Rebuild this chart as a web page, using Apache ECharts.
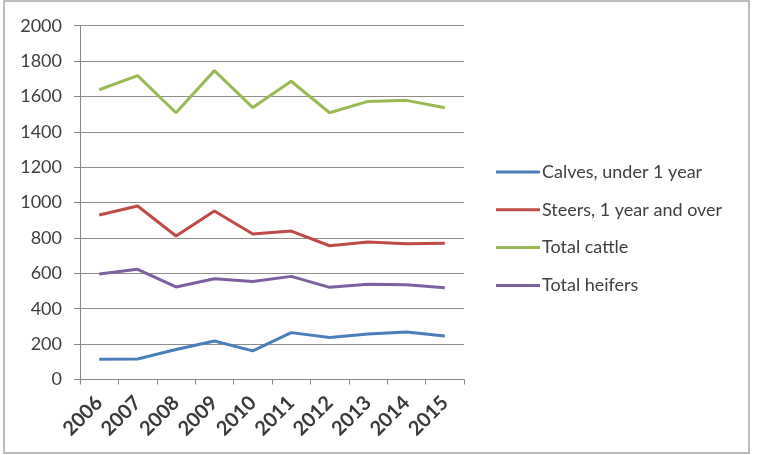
<!DOCTYPE html>
<html>
<head>
<meta charset="utf-8">
<script src="https://cdn.jsdelivr.net/npm/echarts@6/dist/echarts.min.js"></script>
<style>
  html, body { margin: 0; padding: 0; background: #fff; }
  #chart { width: 757px; height: 455px; }
</style>
</head>
<body>
<div id="chart"></div>
<script>
// Cattle inventory by class, 2006–2015
const years = ['2006', '2007', '2008', '2009', '2010', '2011', '2012', '2013', '2014', '2015'];
const calves = [114, 116, 170, 218, 162, 265, 238, 257, 268, 246];
const steers = [930, 981, 811, 953, 822, 839, 756, 777, 768, 770];
const totalCattle = [1638, 1718, 1508, 1746, 1537, 1686, 1508, 1572, 1578, 1536];
const heifers = [596, 623, 523, 570, 554, 583, 521, 538, 536, 519];
const yTicks = [0, 200, 400, 600, 800, 1000, 1200, 1400, 1600, 1800, 2000];

const FONT = 'Lato';
const TEXT = '#404040';

const seriesDefs = [
  { name: 'Calves, under 1 year', data: calves, color: '#4a7ebb' },
  { name: 'Steers, 1 year and over', data: steers, color: '#be4b48' },
  { name: 'Total cattle', data: totalCattle, color: '#98b954' },
  { name: 'Total heifers', data: heifers, color: '#7d60a0' }
];

const chart = echarts.init(document.getElementById('chart'), null, { renderer: 'canvas' });
chart.setOption({
  animation: false,
  backgroundColor: '#fff',
  textStyle: { fontFamily: FONT },
  grid: { left: 80, right: 293, top: 25.7, bottom: 75.5 },
  graphic: [{
    type: 'rect',
    shape: { x: 4, y: 1, width: 745, height: 452 },
    style: { fill: 'none', stroke: '#a6a6a6', lineWidth: 1.5 },
    silent: true
  }],
  legend: {
    orient: 'vertical',
    left: 496,
    top: 162,
    padding: 0,
    icon: 'rect',
    itemWidth: 44,
    itemHeight: 3,
    itemGap: 17.8,
    textStyle: { fontFamily: FONT, fontSize: 18, color: TEXT, lineHeight: 20, padding: [0, 0, 0, -3] },
    data: seriesDefs.map(s => s.name)
  },
  xAxis: {
    type: 'category',
    data: years,
    boundaryGap: true,
    axisLine: { lineStyle: { color: '#868686', width: 1 } },
    axisTick: { show: true, interval: 0, length: 5, lineStyle: { color: '#868686' } },
    axisLabel: {
      interval: 0, rotate: 45, margin: 20,
      fontFamily: FONT, fontSize: 20, fontWeight: 'bold', color: '#3a3a3a'
    }
  },
  yAxis: {
    type: 'value',
    min: yTicks[0],
    max: yTicks[yTicks.length - 1],
    interval: yTicks[1] - yTicks[0],
    axisLine: { show: true, lineStyle: { color: '#868686', width: 1 } },
    axisTick: { show: true, length: 6, lineStyle: { color: '#868686' } },
    axisLabel: { margin: 18, fontFamily: FONT, fontSize: 18, color: TEXT, formatter: v => String(v) },
    splitLine: { lineStyle: { color: '#8c8c8c', width: 1 } }
  },
  series: seriesDefs.map(s => ({
    name: s.name,
    type: 'line',
    data: s.data,
    symbol: 'none',
    color: s.color,
    lineStyle: { color: s.color, width: 3 }
  }))
});
</script>
</body>
</html>
